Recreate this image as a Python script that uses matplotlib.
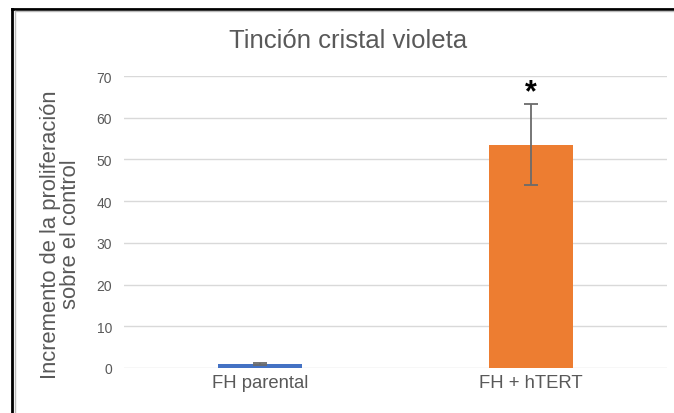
import numpy as np
import matplotlib.pyplot as plt
from matplotlib.lines import Line2D

categories = ["FH parental", "FH + hTERT"]
values = [1.0, 53.5]
errors = [0.2, 9.7]
colors = ["#4472C4", "#ED7D31"]
yticks = [0, 10, 20, 30, 40, 50, 60, 70]

plt.rcParams['font.family'] = ['Liberation Sans', 'DejaVu Sans']

fig = plt.figure(figsize=(6.74, 4.14), dpi=100)
ax = fig.add_axes([0.1847, 0.1087, 0.8042, 0.7053])

x = np.arange(len(categories))
ax.bar(x, values, width=0.31, color=colors, zorder=2)
ax.errorbar(x, values, yerr=errors, fmt='none', ecolor='#6b6b6b',
            elinewidth=1.3, capsize=5, capthick=1.3, zorder=3)

# significance mark
ax.text(x[1], values[1] + errors[1] - 0.6, "*", ha='center', va='bottom',
        fontsize=22, fontweight='bold', color='black')

ax.set_xlim(-0.5, 1.5)
ax.set_ylim(0, 70)
ax.set_yticks(yticks)
ax.set_xticks(x)
ax.set_xticklabels(categories, fontsize=13.3, color='#595959')
ax.tick_params(axis='y', length=0, pad=9, labelsize=10, labelcolor='#595959')
ax.tick_params(axis='x', length=0, pad=4)
ax.grid(axis='y', color='#d9d9d9', linewidth=1, zorder=0)
for s in ax.spines.values():
    s.set_visible(False)

ax.set_ylabel("Incremento de la proliferación\nsobre el control", fontsize=15.8,
              color='#595959', linespacing=0.95)
ax.yaxis.set_label_coords(-0.08, 0.46)

fig.text(0.517, 0.902, "Tinción cristal violeta", ha='center', va='center',
         fontsize=18.5, color='#595959')

# outer frame (left and top edges)
fig.add_artist(Line2D([12.5/674, 12.5/674], [0, 1 - 9.5/414], color='black',
                      linewidth=2, transform=fig.transFigure))
fig.add_artist(Line2D([12.5/674, 1], [1 - 9.5/414, 1 - 9.5/414], color='black',
                      linewidth=2, transform=fig.transFigure))
fig.add_artist(Line2D([14.5/674, 14.5/674], [0, 1 - 11.5/414], color='#bbbbbb',
                      linewidth=1, transform=fig.transFigure))
fig.add_artist(Line2D([14.5/674, 1], [1 - 11.5/414, 1 - 11.5/414], color='#bbbbbb',
                      linewidth=1, transform=fig.transFigure))

fig.savefig("out.png", dpi=100)
